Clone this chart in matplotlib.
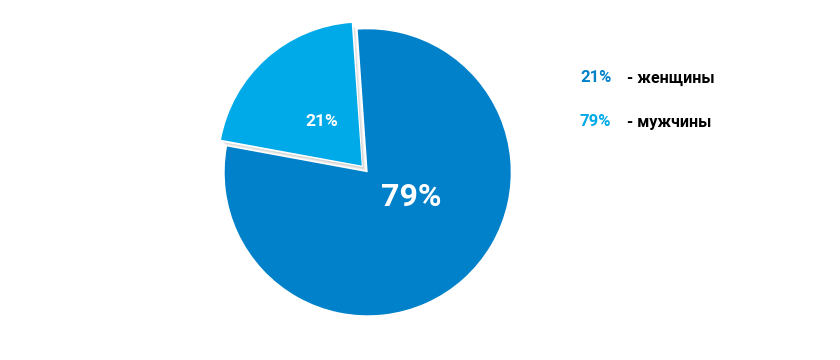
import math
import matplotlib
matplotlib.use("Agg")
import matplotlib.pyplot as plt
from matplotlib.patches import Wedge

labels = ["женщины", "мужчины"]
values = [21, 79]
slice_colors = ["#00AAE8", "#0081C9"]
legend_colors = ["#0081C9", "#00AAE8"]

plt.rcParams['font.family'] = ['Roboto', 'DejaVu Sans']

fig = plt.figure(figsize=(8.4, 3.6), dpi=100)
ax = fig.add_axes([0, 0, 1, 1])

center = (367.7, 360 - 172.3)
radius = 143
start = 94.0
total = sum(values)
exp = 9

wedges, _ = ax.pie(values, colors=slice_colors, startangle=start, counterclock=True,
                   center=center, radius=radius, explode=[exp, 0],
                   wedgeprops=dict(linewidth=0), frame=True)
ax.set_xlim(0, 840)
ax.set_ylim(0, 360)
ax.set_aspect('equal')
ax.axis('off')

ang_small = values[0] / total * 360
mid = math.radians(start + ang_small / 2)
cx = center[0] + exp * math.cos(mid)
cy = center[1] + exp * math.sin(mid)

wedges[1].set_zorder(1)
# soft shadow behind exploded slice
for dx, dy, a in [(4, -5, 0.25), (3, -4, 0.35), (2, -3, 0.5)]:
    ax.add_patch(Wedge((cx + dx, cy + dy), radius, start, start + ang_small,
                       facecolor="#C8C8C8", alpha=a, linewidth=0, zorder=1.5))
ax.add_patch(Wedge((cx + 1, cy - 1.5), radius + 0.5, start - 0.3, start + ang_small + 0.3,
                   facecolor="white", linewidth=0, zorder=1.8))
wedges[0].set_zorder(2)

ax.text(322, 360 - 121, f"{values[0]}%", color="white", fontsize=12.5,
        fontweight='bold', ha='center', va='center', zorder=3)
ax.text(411, 360 - 197, f"{values[1]}%", color="white", fontsize=23,
        fontweight='bold', ha='center', va='center', zorder=3)

for i, (lab, v) in enumerate(zip(labels, values)):
    y = 360 - (78 + 44 * i)
    ax.text(580, y, f"{v}%", color=legend_colors[i], fontsize=12,
            fontweight='bold', ha='left', va='center')
    ax.text(627, y, f"- {lab}", color="black", fontsize=11.5,
            fontweight='bold', ha='left', va='center')

fig.savefig("out.png", dpi=100, facecolor="white")
